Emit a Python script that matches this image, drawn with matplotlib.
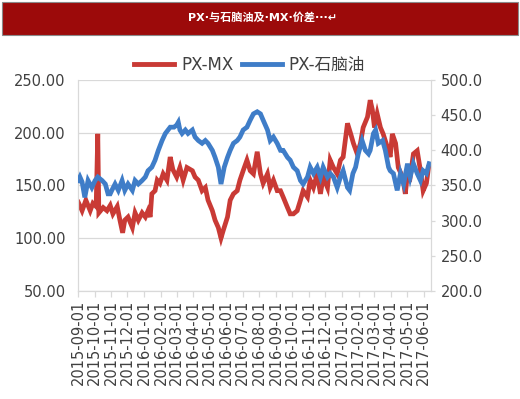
import matplotlib
matplotlib.use("Agg")
import matplotlib.pyplot as plt
import matplotlib.dates as mdates
from matplotlib.patches import Rectangle
from matplotlib.lines import Line2D
import numpy as np
import pandas as pd

plt.rcParams['font.family'] = ['DejaVu Sans', 'Noto Sans CJK SC']

title = "PX·与石脑油及·MX·价差···↵"
label_mx = "PX-MX"
label_naphtha = "PX-石脑油"

# PX-MX spread (left axis)
mx_dates = [
    "2015-09-01", "2015-09-08", "2015-09-15", "2015-09-23", "2015-09-28", "2015-10-04",
    "2015-10-07", "2015-10-09", "2015-10-17", "2015-10-24", "2015-10-30", "2015-11-04",
    "2015-11-12", "2015-11-17", "2015-11-22", "2015-11-26", "2015-12-02", "2015-12-10",
    "2015-12-15", "2015-12-21", "2015-12-28", "2016-01-03", "2016-01-08", "2016-01-12",
    "2016-01-15", "2016-01-21", "2016-01-25", "2016-01-30", "2016-02-05", "2016-02-12",
    "2016-02-18", "2016-02-23", "2016-03-01", "2016-03-07", "2016-03-13", "2016-03-20",
    "2016-03-30", "2016-04-04", "2016-04-10", "2016-04-17", "2016-04-23", "2016-04-28",
    "2016-05-06", "2016-05-11", "2016-05-17", "2016-05-22", "2016-05-26", "2016-06-03",
    "2016-06-08", "2016-06-14", "2016-06-21", "2016-06-26", "2016-07-02", "2016-07-09",
    "2016-07-15", "2016-07-21", "2016-07-28", "2016-08-03", "2016-08-08", "2016-08-16",
    "2016-08-21", "2016-08-27", "2016-09-03", "2016-09-09", "2016-09-14", "2016-09-22",
    "2016-09-27", "2016-10-03", "2016-10-10", "2016-10-16", "2016-10-21", "2016-10-29",
    "2016-11-03", "2016-11-09", "2016-11-16", "2016-11-22", "2016-11-27", "2016-12-05",
    "2016-12-10", "2016-12-16", "2016-12-23", "2016-12-29", "2017-01-03", "2017-01-11",
    "2017-01-17", "2017-01-22", "2017-01-29", "2017-02-04", "2017-02-09", "2017-02-17",
    "2017-02-22", "2017-02-26", "2017-03-02", "2017-03-07", "2017-03-13", "2017-03-18",
    "2017-03-26", "2017-03-31", "2017-04-04", "2017-04-10", "2017-04-15", "2017-04-23",
    "2017-04-28", "2017-05-02", "2017-05-07", "2017-05-13", "2017-05-20", "2017-05-26",
    "2017-05-31", "2017-06-06", "2017-06-10",
]
mx_values = [
    134, 126, 136, 126, 133, 130,
    199, 124, 129, 126, 131, 123,
    130, 117, 105, 117, 120, 110,
    124, 117, 124, 120, 126, 120,
    142, 145, 155, 152, 161, 155,
    177, 165, 158, 167, 155, 167,
    164, 158, 155, 145, 148, 136,
    126, 117, 110, 100, 107, 120,
    136, 142, 145, 155, 164, 174,
    164, 161, 182, 161, 152, 161,
    148, 155, 145, 145, 139, 129,
    123, 123, 126, 136, 145, 139,
    155, 148, 161, 142, 158, 148,
    174, 167, 161, 174, 177, 209,
    199, 190, 180, 190, 205, 215,
    231, 222, 205, 218, 205, 199,
    186, 177, 199, 190, 167, 158,
    142, 161, 158, 180, 183, 164,
    145, 152, 167,
]

# PX-naphtha spread (right axis)
nap_dates = [
    "2015-09-01", "2015-09-04", "2015-09-08", "2015-09-13", "2015-09-19", "2015-09-26",
    "2015-10-02", "2015-10-07", "2015-10-15", "2015-10-21", "2015-10-26", "2015-10-30",
    "2015-11-02", "2015-11-08", "2015-11-14", "2015-11-21", "2015-11-26", "2015-12-02",
    "2015-12-10", "2015-12-15", "2015-12-21", "2015-12-28", "2016-01-03", "2016-01-08",
    "2016-01-15", "2016-01-21", "2016-01-27", "2016-02-03", "2016-02-09", "2016-02-14",
    "2016-02-18", "2016-02-25", "2016-03-01", "2016-03-04", "2016-03-07", "2016-03-11",
    "2016-03-17", "2016-03-22", "2016-03-30", "2016-04-04", "2016-04-10", "2016-04-17",
    "2016-04-23", "2016-04-28", "2016-05-06", "2016-05-11", "2016-05-17", "2016-05-22",
    "2016-05-28", "2016-06-03", "2016-06-08", "2016-06-14", "2016-06-21", "2016-06-26",
    "2016-07-02", "2016-07-09", "2016-07-15", "2016-07-21", "2016-07-28", "2016-08-03",
    "2016-08-08", "2016-08-16", "2016-08-21", "2016-08-27", "2016-09-03", "2016-09-09",
    "2016-09-14", "2016-09-22", "2016-09-27", "2016-10-03", "2016-10-10", "2016-10-16",
    "2016-10-21", "2016-10-29", "2016-11-03", "2016-11-09", "2016-11-16", "2016-11-22",
    "2016-11-27", "2016-12-05", "2016-12-10", "2016-12-16", "2016-12-23", "2016-12-29",
    "2017-01-03", "2017-01-11", "2017-01-15", "2017-01-21", "2017-01-26", "2017-01-31",
    "2017-02-07", "2017-02-13", "2017-02-19", "2017-02-22", "2017-02-28", "2017-03-04",
    "2017-03-09", "2017-03-17", "2017-03-22", "2017-03-28", "2017-03-31", "2017-04-06",
    "2017-04-13", "2017-04-19", "2017-04-25", "2017-05-02", "2017-05-07", "2017-05-13",
    "2017-05-20", "2017-05-26", "2017-05-31", "2017-06-06", "2017-06-11",
]
nap_values = [
    357, 362, 355, 333, 357, 347,
    357, 362, 357, 352, 338, 338,
    343, 352, 343, 357, 343, 352,
    343, 357, 352, 357, 362, 371,
    376, 386, 400, 414, 424, 429,
    433, 433, 436, 440, 429, 424,
    429, 424, 429, 419, 414, 410,
    414, 410, 400, 390, 376, 352,
    376, 390, 400, 410, 414, 419,
    429, 433, 443, 452, 455, 452,
    443, 429, 414, 419, 410, 400,
    400, 390, 386, 376, 371, 357,
    352, 362, 376, 367, 376, 362,
    376, 362, 367, 362, 347, 362,
    371, 347, 343, 367, 376, 395,
    414, 400, 395, 400, 424, 429,
    410, 414, 400, 376, 371, 367,
    343, 367, 352, 381, 362, 381,
    367, 357, 371, 367, 381,
]

left_ticks = [50, 100, 150, 200, 250]
right_ticks = [200, 250, 300, 350, 400, 450, 500]

red = '#C93A35'
blue = '#3F7DC8'
grid_c = '#D9D9D9'
text_c = '#404040'

fig = plt.figure(figsize=(5.2, 3.99), dpi=100)

# banner across the top
fig.add_artist(Rectangle((0.004, 0.912), 0.992, 0.083, transform=fig.transFigure,
                         facecolor='#9C0A0A', edgecolor='#8A8A8A', lw=0.8))
fig.text(0.505, 0.955, title, color='white', fontsize=8, fontweight='bold',
         ha='center', va='center', family=['DejaVu Sans', 'Noto Sans CJK SC'])

ax = fig.add_axes([0.1506, 0.2714, 0.6777, 0.5277])
ax2 = ax.twinx()

mx_x = pd.to_datetime(mx_dates)
nap_x = pd.to_datetime(nap_dates)

ax.plot(mx_x, mx_values, color=red, lw=3.4, solid_joinstyle='miter')
ax2.plot(nap_x, nap_values, color=blue, lw=3.4, solid_joinstyle='miter')

ax.set_ylim(left_ticks[0], left_ticks[-1])
ax2.set_ylim(right_ticks[0], right_ticks[-1])
ax.set_yticks(left_ticks)
ax2.set_yticks(right_ticks)
ax.set_yticklabels([f"{v:.2f}" for v in left_ticks])
ax2.set_yticklabels([f"{v:.1f}" for v in right_ticks])

ax.set_xlim(pd.Timestamp("2015-09-01"), pd.Timestamp("2017-06-14"))
ax.xaxis.set_major_locator(mdates.MonthLocator())
ax.xaxis.set_major_formatter(mdates.DateFormatter("%Y-%m-%d"))

ax.grid(axis='y', color=grid_c, lw=0.9)
ax.set_axisbelow(True)
for a in (ax, ax2):
    a.spines['top'].set_visible(False)
    for s in ('left', 'right', 'bottom'):
        a.spines[s].set_color(grid_c)
        a.spines[s].set_linewidth(0.9)
ax2.spines['left'].set_visible(False)
ax2.spines['bottom'].set_visible(False)
ax.spines['right'].set_visible(False)

ax.tick_params(axis='y', length=0, pad=9, labelsize=10.5, labelcolor=text_c)
ax2.tick_params(axis='y', length=3, color=grid_c, width=0.9, pad=4, labelsize=10.5, labelcolor=text_c)
ax.tick_params(axis='x', length=4.5, color=grid_c, width=0.9, pad=2, labelsize=10.5,
               labelcolor=text_c, labelrotation=90)

handles = [Line2D([], [], color=red, lw=3.5), Line2D([], [], color=blue, lw=3.5)]
fig.legend(handles, [label_mx, label_naphtha], loc='center', bbox_to_anchor=(0.48, 0.838),
           ncol=2, frameon=False, fontsize=12, handlelength=2.4, columnspacing=0.5,
           handletextpad=0.4, labelcolor=text_c)

fig.savefig("out.png", dpi=100, facecolor='white')
